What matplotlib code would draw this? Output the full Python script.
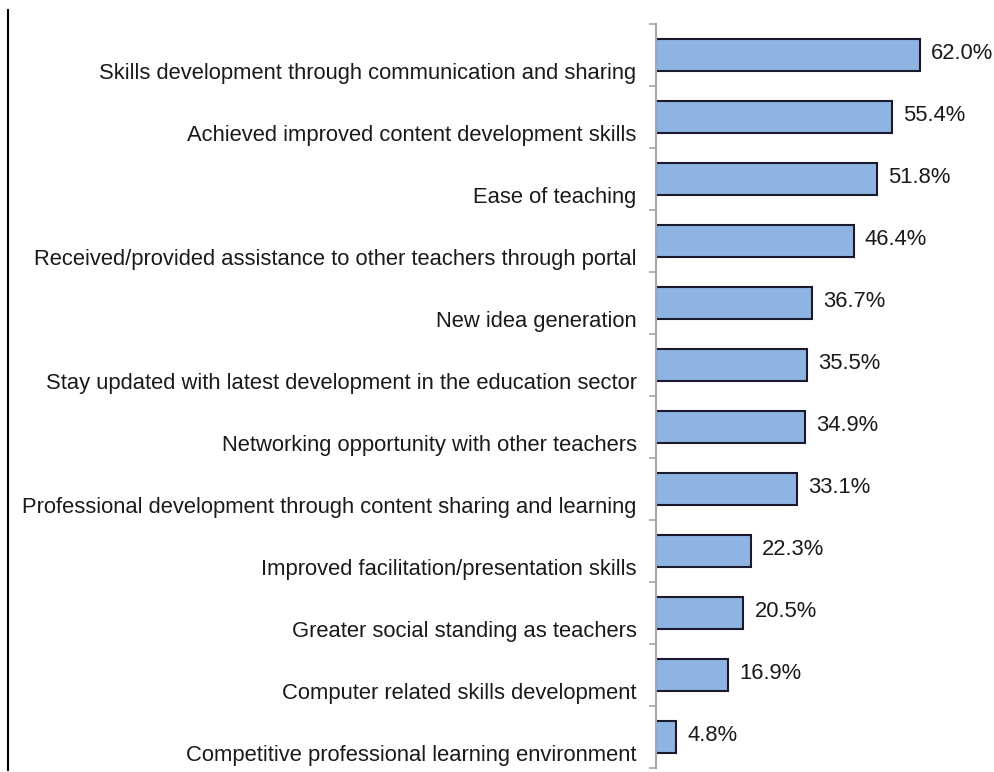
import numpy as np
import matplotlib.pyplot as plt
from matplotlib.lines import Line2D

# Categories, top to bottom
labels = [
    "Skills development through communication and sharing",
    "Achieved improved content development skills",
    "Ease of teaching",
    "Received/provided assistance to other teachers through portal",
    "New idea generation",
    "Stay updated with latest development in the education sector",
    "Networking opportunity with other teachers",
    "Professional development through content sharing and learning",
    "Improved facilitation/presentation skills",
    "Greater social standing as teachers",
    "Computer related skills development",
    "Competitive professional learning environment",
]
values = [62.0, 55.4, 51.8, 46.4, 36.7, 35.5, 34.9, 33.1, 22.3, 20.5, 16.9, 4.8]

plt.rcParams['font.family'] = ['Liberation Sans', 'DejaVu Sans']

W, H = 995, 772
fig = plt.figure(figsize=(W / 100, H / 100), dpi=100)

# axes placed in pixel terms of the reference
x0, x1 = 656, 995
y_top, y_bot = 24, 768
ax = fig.add_axes([x0 / W, 1 - y_bot / H, (x1 - x0) / W, (y_bot - y_top) / H])

px_per_pct = (920 - 656) / 62.0
ax.set_xlim(0, (x1 - x0) / px_per_pct)
ax.set_ylim(len(values) - 0.5, -0.5)

y = np.arange(len(values))
ax.barh(y, values, height=0.52, color='#8DB4E2', edgecolor='#1a1a2e', linewidth=1.5)

for yi, v in zip(y, values):
    ax.annotate(f"{v:.1f}%", (v, yi), xytext=(8, 1), textcoords='offset points',
                ha='left', va='center', fontsize=15.8, color='#1a1a1a')

for yi, lab in zip(y, labels):
    ax.annotate(lab, (0, yi), xytext=(-14, -13.5), textcoords='offset points',
                ha='right', va='center', fontsize=15.8, color='#1a1a1a',
                annotation_clip=False)

for s in ['top', 'right', 'bottom']:
    ax.spines[s].set_visible(False)
ax.spines['left'].set_color('#A6A6A6')
ax.spines['left'].set_linewidth(1.5)

ax.set_xticks([])
ax.set_yticks(np.arange(-0.5, len(values), 1.0))
ax.set_yticklabels([])
ax.tick_params(axis='y', direction='out', length=5, width=1.2, color='#A6A6A6')

# border line at the left edge of the picture
fig.add_artist(Line2D([8 / W, 8 / W], [1 - 10 / H, 1 - 770 / H], color='black', linewidth=1.5))

fig.savefig('out.png', dpi=100, facecolor='white')
